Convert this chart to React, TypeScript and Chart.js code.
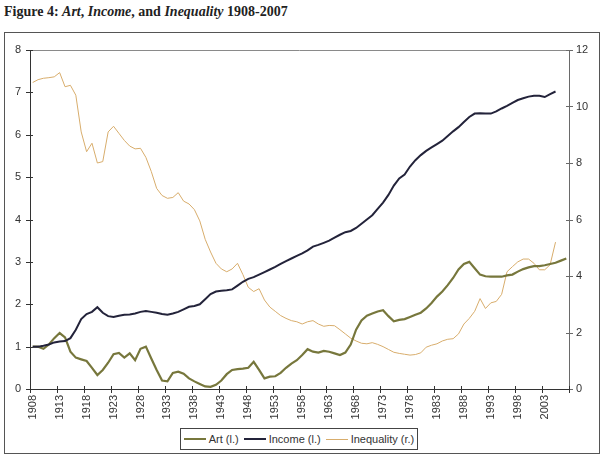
import React, { useEffect, useRef } from "react";
import { Chart, registerables } from "chart.js";

Chart.register(...registerables);

const years: string[] = [
  "1908","1909","1910","1911","1912","1913","1914","1915","1916","1917",
  "1918","1919","1920","1921","1922","1923","1924","1925","1926","1927",
  "1928","1929","1930","1931","1932","1933","1934","1935","1936","1937",
  "1938","1939","1940","1941","1942","1943","1944","1945","1946","1947",
  "1948","1949","1950","1951","1952","1953","1954","1955","1956","1957",
  "1958","1959","1960","1961","1962","1963","1964","1965","1966","1967",
  "1968","1969","1970","1971","1972","1973","1974","1975","1976","1977",
  "1978","1979","1980","1981","1982","1983","1984","1985","1986","1987",
  "1988","1989","1990","1991","1992","1993","1994","1995","1996","1997",
  "1998","1999","2000","2001","2002","2003","2004","2005","2006","2007",
];

const art: (number | null)[] = [
  1.0, 1.0, 0.95, 1.05, 1.2, 1.32, 1.22, 0.88, 0.74, 0.7,
  0.66, 0.5, 0.33, 0.45, 0.62, 0.82, 0.85, 0.74, 0.84, 0.68,
  0.95, 1.0, 0.72, 0.45, 0.2, 0.18, 0.38, 0.41, 0.36, 0.25,
  0.18, 0.12, 0.06, 0.05, 0.1, 0.2, 0.35, 0.45, 0.47, 0.48,
  0.5, 0.64, 0.45, 0.25, 0.29, 0.3, 0.38, 0.5, 0.6, 0.68,
  0.8, 0.94, 0.88, 0.86, 0.9, 0.88, 0.84, 0.8, 0.86, 1.05,
  1.4, 1.62, 1.73, 1.78, 1.83, 1.86, 1.72, 1.6, 1.63, 1.65,
  1.7, 1.75, 1.8, 1.9, 2.03, 2.18, 2.3, 2.45, 2.62, 2.82,
  2.95, 3.0, 2.85, 2.7, 2.66, 2.65, 2.65, 2.65, 2.68, 2.7,
  2.77, 2.83, 2.87, 2.9, 2.9, 2.92, 2.95, 2.98, 3.03, 3.08,
];

const income: (number | null)[] = [
  1.0, 1.0, 1.02, 1.05, 1.1, 1.12, 1.13, 1.2, 1.4, 1.65,
  1.77, 1.82, 1.93, 1.8, 1.72, 1.7, 1.73, 1.75, 1.76, 1.78,
  1.82, 1.84, 1.82, 1.8, 1.77, 1.75, 1.78, 1.82, 1.88, 1.94,
  1.96, 2.0, 2.12, 2.24, 2.3, 2.32, 2.33, 2.35, 2.44, 2.53,
  2.6, 2.64, 2.7, 2.76, 2.82, 2.88, 2.95, 3.02, 3.08, 3.14,
  3.2, 3.27, 3.36, 3.4, 3.45, 3.5, 3.57, 3.64, 3.7, 3.73,
  3.8, 3.9, 4.0, 4.1, 4.25, 4.4, 4.58, 4.8, 4.97, 5.06,
  5.25, 5.4, 5.52, 5.62, 5.7, 5.78, 5.86, 5.97, 6.08, 6.18,
  6.3, 6.42, 6.5, 6.51, 6.5, 6.5, 6.55, 6.62, 6.68, 6.75,
  6.82, 6.86, 6.9, 6.92, 6.92, 6.89, 6.96, 7.02, null, null,
];

const inequality: (number | null)[] = [
  10.85, 10.95, 11.0, 11.02, 11.05, 11.2, 10.7, 10.75, 10.4, 9.1,
  8.4, 8.7, 8.0, 8.05, 9.1, 9.3, 9.05, 8.8, 8.6, 8.5,
  8.52, 8.2, 7.7, 7.1, 6.85, 6.75, 6.78, 6.95, 6.65, 6.55,
  6.35, 5.95, 5.3, 4.85, 4.45, 4.25, 4.15, 4.25, 4.45, 4.05,
  3.6, 3.45, 3.55, 3.15, 2.9, 2.75, 2.6, 2.5, 2.42, 2.38,
  2.3, 2.38, 2.42, 2.3, 2.22, 2.25, 2.24, 2.1, 1.95, 1.8,
  1.7, 1.62, 1.6, 1.64, 1.58, 1.5, 1.4, 1.3, 1.26, 1.23,
  1.2, 1.22, 1.28, 1.48, 1.55, 1.6, 1.7, 1.76, 1.78, 1.95,
  2.3, 2.5, 2.75, 3.2, 2.85, 3.05, 3.1, 3.35, 4.15, 4.33,
  4.5, 4.6, 4.6, 4.45, 4.22, 4.22, 4.4, 5.2, null, null,
];

const seriesNames = ["Art (l.)", "Income (l.)", "Inequality (r.)"];
const seriesColors = ["#77773c", "#23233a", "#d8ad6c"];
const seriesWidths = [2.2, 2, 1];

const FONT = "'Liberation Sans', Arial, sans-serif";

const axesPlugin = {
  id: "axesPlugin",
  afterDatasetsDraw(chart: any) {
    const { ctx, chartArea } = chart;
    const { left, right, top, bottom } = chartArea;
    const xs = chart.scales.x;
    const yl = chart.scales.y;
    const yr = chart.scales.y1;
    ctx.save();
    ctx.lineWidth = 1;
    // top border
    ctx.strokeStyle = "#8a8a8a";
    ctx.beginPath();
    ctx.moveTo(left, top + 0.5);
    ctx.lineTo(right, top + 0.5);
    ctx.stroke();
    // right axis
    ctx.strokeStyle = "#6a6a6a";
    ctx.beginPath();
    ctx.moveTo(Math.round(right) + 0.5, top);
    ctx.lineTo(Math.round(right) + 0.5, bottom);
    ctx.stroke();
    yr.ticks.forEach((t: any) => {
      const y = Math.round(yr.getPixelForValue(t.value)) + 0.5;
      ctx.beginPath();
      ctx.moveTo(right - 3, y);
      ctx.lineTo(right + 4, y);
      ctx.stroke();
    });
    // left axis
    ctx.strokeStyle = "#333";
    ctx.beginPath();
    ctx.moveTo(Math.round(left) + 0.5, top);
    ctx.lineTo(Math.round(left) + 0.5, bottom);
    ctx.stroke();
    yl.ticks.forEach((t: any) => {
      const y = Math.round(yl.getPixelForValue(t.value)) + 0.5;
      ctx.beginPath();
      ctx.moveTo(left - 4, y);
      ctx.lineTo(left + 3, y);
      ctx.stroke();
    });
    // bottom axis
    ctx.beginPath();
    ctx.moveTo(left, Math.round(bottom) + 0.5);
    ctx.lineTo(right, Math.round(bottom) + 0.5);
    ctx.stroke();
    const n = years.length;
    const w = (right - left) / n;
    for (let i = 0; i <= n; i += 5) {
      const x = Math.round(left + i * w) + 0.5;
      ctx.beginPath();
      ctx.moveTo(x, bottom - 3);
      ctx.lineTo(x, bottom + 4);
      ctx.stroke();
    }
    ctx.restore();
  },
};

export default function App() {
  const ref = useRef<HTMLCanvasElement | null>(null);

  useEffect(() => {
    document.body.style.margin = "0";
    if (!ref.current) return;
    const chart = new Chart(ref.current, {
      type: "line",
      data: {
        labels: years,
        datasets: [
          { label: seriesNames[0], data: art, yAxisID: "y" },
          { label: seriesNames[1], data: income, yAxisID: "y" },
          { label: seriesNames[2], data: inequality, yAxisID: "y1" },
        ].map((d, i) => ({
          ...d,
          borderColor: seriesColors[i],
          backgroundColor: seriesColors[i],
          borderWidth: seriesWidths[i],
          pointRadius: 0,
          tension: 0,
          fill: false,
          spanGaps: false,
          order: i === 2 ? 2 : i === 1 ? 0 : 1,
        })),
      },
      options: {
        animation: false,
        responsive: false,
        maintainAspectRatio: false,
        layout: { padding: { left: 0, right: 0, top: 50, bottom: 33 } },
        plugins: {
          legend: { display: false },
          tooltip: { enabled: false },
          title: { display: false },
        },
        scales: {
          x: {
            type: "category",
            offset: true,
            afterFit: (s: any) => {
              s.height = 40;
            },
            grid: {
              display: true,
              offset: true,
              drawOnChartArea: false,
              drawTicks: true,
              tickLength: 4,
              color: "rgba(0,0,0,0)",
            },
            border: { display: false },
            ticks: {
              autoSkip: false,
              maxRotation: 90,
              minRotation: 90,
              padding: 2,
              color: "#333",
              font: { family: FONT, size: 11 },
              callback: (_v: any, i: number) => (i % 5 === 0 ? years[i] : null),
            },
          },
          y: {
            position: "left",
            min: 0,
            max: 8,
            afterFit: (s: any) => {
              s.width = 30;
            },
            grid: {
              display: true,
              drawOnChartArea: false,
              drawTicks: true,
              tickLength: 4,
              color: "rgba(0,0,0,0)",
            },
            border: { display: false },
            ticks: {
              stepSize: 1,
              padding: 5,
              color: "#333",
              font: { family: FONT, size: 11 },
            },
          },
          y1: {
            position: "right",
            min: 0,
            max: 12,
            afterFit: (s: any) => {
              s.width = 35;
            },
            grid: {
              display: true,
              drawOnChartArea: false,
              drawTicks: true,
              tickLength: 4,
              color: "rgba(0,0,0,0)",
            },
            border: { display: false },
            ticks: {
              stepSize: 2,
              padding: 3,
              color: "#333",
              font: { family: FONT, size: 11 },
            },
          },
        },
      },
      plugins: [axesPlugin],
    });
    return () => chart.destroy();
  }, []);

  return (
    <div style={{ position: "relative", width: 604, height: 462, background: "#fff", overflow: "hidden" }}>
      <div
        style={{
          position: "absolute",
          left: 4,
          top: 4,
          fontFamily: "'Liberation Serif', 'Times New Roman', serif",
          fontWeight: "bold",
          fontSize: 14,
          color: "#222",
          whiteSpace: "nowrap",
        }}
      >
        Figure 4: <i>Art</i>, <i>Income</i>, and <i>Inequality</i> 1908-2007
      </div>
      <div
        style={{
          position: "absolute",
          left: 4,
          top: 32,
          width: 594,
          height: 420,
          border: "1px solid #555",
        }}
      />
      <canvas ref={ref} width={604} height={462} style={{ position: "absolute", left: 0, top: 0 }} />
      <div
        style={{
          position: "absolute",
          left: 180,
          top: 428,
          width: 238,
          height: 22,
          border: "1px solid #444",
          display: "flex",
          alignItems: "center",
          justifyContent: "center",
          fontFamily: FONT,
          fontSize: 11,
          color: "#333",
          background: "#fff",
          boxSizing: "border-box",
        }}
      >
        {seriesNames.map((n, i) => (
          <div key={n} style={{ display: "flex", alignItems: "center", marginRight: i < 2 ? 5 : 0 }}>
            <span
              style={{
                display: "inline-block",
                width: 22,
                height: 0,
                borderTop: `${i === 2 ? 1 : 2}px solid ${seriesColors[i]}`,
                marginRight: 3,
              }}
            />
            <span>{n}</span>
          </div>
        ))}
      </div>
    </div>
  );
}
